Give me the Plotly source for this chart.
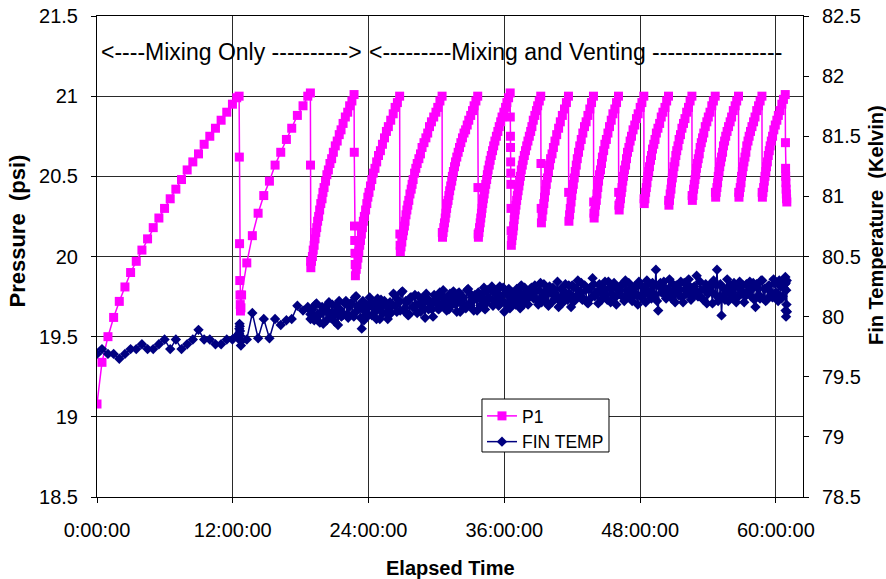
import plotly.graph_objects as go

# ---- Slow-logged start of the test (mixing only): shared time base for both series
early_hours = [
    0.00, 0.44, 0.97, 1.47, 1.97, 2.47, 2.97, 3.47, 3.97, 4.47, 4.97, 5.47, 5.97, 6.47,
    6.97, 7.47, 7.97, 8.47, 8.97, 9.47, 9.97, 10.47, 10.97, 11.47, 11.97, 12.35, 12.56,
    12.58, 12.60, 12.62, 12.64, 12.66, 12.68, 12.72, 12.78,
    13.24, 13.73, 14.24, 14.74, 15.24, 15.74, 16.24, 16.74, 17.21, 17.71, 18.21, 18.63, 18.86,
    18.87, 18.88,
]
early_p1 = [
    19.08, 19.34, 19.50, 19.62, 19.72, 19.81, 19.90, 19.97, 20.04, 20.11, 20.18, 20.24, 20.30, 20.36,
    20.42, 20.48, 20.54, 20.59, 20.64, 20.70, 20.75, 20.80, 20.85, 20.90, 20.95, 20.99, 21.00,
    20.62, 20.08, 19.85, 19.76, 19.70, 19.66, 19.68, 19.76,
    19.96, 20.13, 20.27, 20.38, 20.47, 20.57, 20.65, 20.73, 20.80, 20.88, 20.94, 21.00, 21.02,
    20.57, 19.97,
]
early_temp = [
    79.69, 79.73, 79.69, 79.69, 79.65, 79.69, 79.73, 79.73, 79.77, 79.73, 79.73, 79.77, 79.81, 79.73,
    79.81, 79.73, 79.77, 79.81, 79.89, 79.81, 79.81, 79.77, 79.77, 79.81, 79.81, 79.84, 79.86,
    79.90, 79.94, 79.92, 79.88, 79.84, 79.80, 79.76, 79.80,
    79.81, 80.03, 79.82, 79.98, 79.82, 79.98, 79.93, 79.97, 79.98, 80.09, 80.05, 80.08, 80.02,
    79.98, 80.05,
]

# ---- Fast-logged pressure cycles (fill, then vent) from ~19 h onward
late_p1_hours = [
    18.90, 18.96, 19.04, 19.11, 19.19, 19.27, 19.34, 19.42, 19.50, 19.59, 19.68, 19.78, 19.89, 19.97, 20.07, 20.20,
    20.32, 20.45, 20.59, 20.74, 20.89, 21.06, 21.23, 21.41, 21.57, 21.75, 21.95, 22.16, 22.33, 22.53, 22.72,
    22.74, 22.76, 22.78, 22.80, 22.82,
    22.84, 22.91, 22.98, 23.06, 23.14, 23.22, 23.29, 23.37, 23.46, 23.54, 23.63, 23.74, 23.85, 23.94, 24.04, 24.17,
    24.29, 24.42, 24.57, 24.72, 24.88, 25.05, 25.23, 25.41, 25.58, 25.75, 25.96, 26.18, 26.35, 26.55, 26.75,
    26.77, 26.79,
    26.81, 26.87, 26.94, 27.02, 27.09, 27.17, 27.23, 27.31, 27.39, 27.47, 27.56, 27.66, 27.77, 27.85, 27.94, 28.07,
    28.18, 28.30, 28.45, 28.59, 28.73, 28.90, 29.07, 29.23, 29.39, 29.56, 29.76, 29.96, 30.12, 30.31, 30.50,
    30.52,
    30.54, 30.59, 30.65, 30.71, 30.78, 30.84, 30.90, 30.96, 31.03, 31.10, 31.17, 31.26, 31.35, 31.41, 31.50, 31.60,
    31.69, 31.80, 31.92, 32.04, 32.16, 32.30, 32.44, 32.58, 32.72, 32.86, 33.03, 33.19, 33.33, 33.49, 33.65,
    33.67, 33.69,
    33.71, 33.76, 33.81, 33.87, 33.92, 33.98, 34.03, 34.09, 34.15, 34.22, 34.28, 34.36, 34.44, 34.50, 34.57, 34.67,
    34.75, 34.85, 34.96, 35.06, 35.17, 35.30, 35.43, 35.55, 35.68, 35.80, 35.96, 36.11, 36.23, 36.38, 36.52,
    36.53, 36.54, 36.55, 36.56, 36.57, 36.58, 36.59, 36.60,
    36.62, 36.66, 36.71, 36.77, 36.82, 36.87, 36.92, 36.97, 37.03, 37.09, 37.15, 37.22, 37.29, 37.35, 37.42, 37.50,
    37.59, 37.67, 37.77, 37.87, 37.98, 38.09, 38.21, 38.33, 38.44, 38.56, 38.70, 38.84, 38.95, 39.09, 39.22,
    39.24, 39.26,
    39.28, 39.34, 39.41, 39.49, 39.55, 39.63, 39.71, 39.80, 39.90, 40.00, 40.09,
    40.22, 40.34, 40.48, 40.63, 40.80, 40.95, 41.13, 41.32, 41.49, 41.67,
    41.69,
    41.71, 41.77, 41.83, 41.90, 41.96, 42.03, 42.10, 42.18, 42.27, 42.36, 42.45,
    42.56, 42.67, 42.80, 42.94, 43.09, 43.23, 43.39, 43.56, 43.71, 43.88,
    43.90, 43.92,
    43.94, 44.00, 44.06, 44.13, 44.19, 44.26, 44.33, 44.41, 44.50, 44.59, 44.67,
    44.78, 44.89, 45.02, 45.16, 45.30, 45.45, 45.60, 45.77, 45.92, 46.09,
    46.11, 46.13,
    46.15, 46.21, 46.27, 46.34, 46.40, 46.47, 46.54, 46.62, 46.72, 46.80, 46.89,
    47.01, 47.12, 47.24, 47.38, 47.53, 47.68, 47.83, 48.01, 48.16, 48.33,
    48.35,
    48.37, 48.43, 48.49, 48.55, 48.61, 48.69, 48.76, 48.83, 48.92, 49.01, 49.10,
    49.21, 49.32, 49.44, 49.58, 49.73, 49.87, 50.02, 50.20, 50.35, 50.51,
    50.53,
    50.55, 50.60, 50.66, 50.73, 50.78, 50.85, 50.92, 50.99, 51.08, 51.16, 51.24,
    51.35, 51.45, 51.57, 51.70, 51.84, 51.97, 52.12, 52.28, 52.42, 52.58,
    52.60,
    52.62, 52.67, 52.73, 52.79, 52.85, 52.92, 52.98, 53.06, 53.14, 53.23, 53.31,
    53.41, 53.52, 53.63, 53.76, 53.90, 54.03, 54.18, 54.34, 54.48, 54.64,
    54.66,
    54.68, 54.73, 54.79, 54.85, 54.91, 54.98, 55.04, 55.12, 55.20, 55.29, 55.37,
    55.47, 55.57, 55.69, 55.82, 55.96, 56.09, 56.24, 56.40, 56.54, 56.70,
    56.72,
    56.74, 56.79, 56.85, 56.92, 56.97, 57.04, 57.11, 57.18, 57.27, 57.35, 57.43,
    57.54, 57.64, 57.76, 57.89, 58.03, 58.16, 58.31, 58.47, 58.61, 58.77,
    58.79,
    58.81, 58.86, 58.92, 58.98, 59.04, 59.11, 59.17, 59.25, 59.33, 59.42, 59.50,
    59.60, 59.71, 59.82, 59.95, 60.09, 60.22, 60.37, 60.53, 60.67, 60.83,
    60.85, 60.86, 60.87, 60.89, 60.91, 60.93, 60.95, 60.97,
]
late_p1 = [
    19.93, 19.97, 20.00, 20.04, 20.07, 20.11, 20.15, 20.18, 20.22, 20.25, 20.29, 20.33, 20.36, 20.40, 20.43, 20.47,
    20.51, 20.54, 20.58, 20.61, 20.65, 20.69, 20.72, 20.76, 20.79, 20.83, 20.87, 20.90, 20.94, 20.97, 21.01,
    20.65, 20.19, 20.10, 20.02, 19.95,
    19.88, 19.92, 19.95, 19.99, 20.03, 20.07, 20.10, 20.14, 20.18, 20.22, 20.25, 20.29, 20.33, 20.37, 20.40, 20.44,
    20.48, 20.52, 20.55, 20.59, 20.63, 20.66, 20.70, 20.74, 20.78, 20.81, 20.85, 20.89, 20.93, 20.96, 21.00,
    20.14, 20.07,
    20.03, 20.06, 20.09, 20.13, 20.16, 20.19, 20.22, 20.26, 20.29, 20.32, 20.35, 20.39, 20.42, 20.45, 20.48, 20.52,
    20.55, 20.58, 20.61, 20.64, 20.68, 20.71, 20.74, 20.77, 20.81, 20.84, 20.87, 20.90, 20.93, 20.97, 21.00,
    20.15,
    20.12, 20.15, 20.18, 20.21, 20.24, 20.27, 20.30, 20.33, 20.35, 20.38, 20.41, 20.44, 20.47, 20.50, 20.53, 20.56,
    20.59, 20.62, 20.65, 20.68, 20.71, 20.74, 20.77, 20.79, 20.82, 20.85, 20.88, 20.91, 20.94, 20.97, 21.00,
    20.43, 20.14,
    20.12, 20.15, 20.18, 20.21, 20.24, 20.27, 20.30, 20.33, 20.36, 20.39, 20.42, 20.45, 20.48, 20.51, 20.54, 20.57,
    20.60, 20.63, 20.66, 20.69, 20.72, 20.75, 20.78, 20.81, 20.84, 20.87, 20.90, 20.93, 20.96, 20.99, 21.02,
    20.87, 20.75, 20.68, 20.59, 20.52, 20.45, 20.30, 20.16,
    20.07, 20.10, 20.13, 20.16, 20.19, 20.23, 20.26, 20.29, 20.32, 20.35, 20.38, 20.41, 20.44, 20.47, 20.50, 20.54,
    20.57, 20.60, 20.63, 20.66, 20.69, 20.72, 20.75, 20.78, 20.81, 20.85, 20.88, 20.91, 20.94, 20.97, 21.00,
    20.58, 20.30,
    20.21, 20.25, 20.29, 20.33, 20.37, 20.41, 20.45, 20.49, 20.53, 20.57, 20.61,
    20.64, 20.68, 20.72, 20.76, 20.80, 20.84, 20.88, 20.92, 20.96, 21.00,
    20.40,
    20.22, 20.26, 20.30, 20.34, 20.38, 20.42, 20.45, 20.49, 20.53, 20.57, 20.61,
    20.65, 20.69, 20.73, 20.77, 20.81, 20.84, 20.88, 20.92, 20.96, 21.00,
    20.34, 20.27,
    20.24, 20.28, 20.32, 20.35, 20.39, 20.43, 20.47, 20.51, 20.54, 20.58, 20.62,
    20.66, 20.70, 20.73, 20.77, 20.81, 20.85, 20.89, 20.92, 20.96, 21.00,
    20.40, 20.32,
    20.29, 20.33, 20.36, 20.40, 20.43, 20.47, 20.50, 20.54, 20.57, 20.61, 20.65,
    20.68, 20.72, 20.75, 20.79, 20.82, 20.86, 20.89, 20.93, 20.96, 21.00,
    20.36,
    20.33, 20.36, 20.40, 20.43, 20.46, 20.50, 20.53, 20.56, 20.60, 20.63, 20.67,
    20.70, 20.73, 20.77, 20.80, 20.83, 20.87, 20.90, 20.93, 20.97, 21.00,
    20.35,
    20.32, 20.35, 20.39, 20.42, 20.46, 20.49, 20.52, 20.56, 20.59, 20.63, 20.66,
    20.69, 20.73, 20.76, 20.80, 20.83, 20.86, 20.90, 20.93, 20.97, 21.00,
    20.38,
    20.35, 20.38, 20.42, 20.45, 20.48, 20.51, 20.55, 20.58, 20.61, 20.64, 20.68,
    20.71, 20.74, 20.77, 20.81, 20.84, 20.87, 20.90, 20.94, 20.97, 21.00,
    20.40,
    20.37, 20.40, 20.43, 20.46, 20.50, 20.53, 20.56, 20.59, 20.62, 20.65, 20.69,
    20.72, 20.75, 20.78, 20.81, 20.84, 20.87, 20.91, 20.94, 20.97, 21.00,
    20.40,
    20.37, 20.40, 20.43, 20.46, 20.50, 20.53, 20.56, 20.59, 20.62, 20.65, 20.69,
    20.72, 20.75, 20.78, 20.81, 20.84, 20.87, 20.91, 20.94, 20.97, 21.00,
    20.40,
    20.37, 20.40, 20.43, 20.47, 20.50, 20.53, 20.56, 20.59, 20.63, 20.66, 20.69,
    20.72, 20.75, 20.79, 20.82, 20.85, 20.88, 20.91, 20.95, 20.98, 21.01,
    20.71, 20.55, 20.50, 20.46, 20.42, 20.39, 20.36, 20.34,
]

# ---- Fast-logged fin temperature
late_temp_hours = [
    19.0, 19.1, 19.2, 19.3, 19.4, 19.5, 19.6, 19.7, 19.8, 19.9, 20.0, 20.1, 20.2, 20.3, 20.4, 20.5, 20.6, 20.7, 20.8, 20.9,
    21.0, 21.1, 21.2, 21.3, 21.4, 21.5, 21.6, 21.7, 21.8, 21.9, 22.0, 22.1, 22.2, 22.3, 22.4, 22.5, 22.6, 22.7, 22.8, 22.9,
    23.0, 23.1, 23.2, 23.3, 23.4, 23.5, 23.6, 23.7, 23.8, 23.9, 24.0, 24.1, 24.2, 24.3, 24.4, 24.5, 24.6, 24.7, 24.8, 24.9,
    25.0, 25.1, 25.2, 25.3, 25.4, 25.5, 25.6, 25.7, 25.8, 25.9, 26.0, 26.1, 26.2, 26.3, 26.4, 26.5, 26.6, 26.7, 26.8, 26.9,
    27.0, 27.1, 27.2, 27.3, 27.4, 27.5, 27.6, 27.7, 27.8, 27.9, 28.0, 28.1, 28.2, 28.3, 28.4, 28.5, 28.6, 28.7, 28.8, 28.9,
    29.0, 29.1, 29.2, 29.3, 29.4, 29.5, 29.6, 29.7, 29.8, 29.9, 30.0, 30.1, 30.2, 30.3, 30.4, 30.5, 30.6, 30.7, 30.8, 30.9,
    31.0, 31.1, 31.2, 31.3, 31.4, 31.5, 31.6, 31.7, 31.8, 31.9, 32.0, 32.1, 32.2, 32.3, 32.4, 32.5, 32.6, 32.7, 32.8, 32.9,
    33.0, 33.1, 33.2, 33.3, 33.4, 33.5, 33.6, 33.7, 33.8, 33.9, 34.0, 34.1, 34.2, 34.3, 34.4, 34.5, 34.6, 34.7, 34.8, 34.9,
    35.0, 35.1, 35.2, 35.3, 35.4, 35.5, 35.6, 35.7, 35.8, 35.9, 36.0, 36.1, 36.2, 36.3, 36.4, 36.5, 36.6, 36.7, 36.8, 36.9,
    37.0, 37.1, 37.2, 37.3, 37.4, 37.5, 37.6, 37.7, 37.8, 37.9, 38.0, 38.1, 38.2, 38.3, 38.4, 38.5, 38.6, 38.7, 38.8, 38.9,
    39.0, 39.1, 39.2, 39.3, 39.4, 39.5, 39.6, 39.7, 39.8, 39.9, 40.0, 40.1, 40.2, 40.3, 40.4, 40.5, 40.6, 40.7, 40.8, 40.9,
    41.0, 41.1, 41.2, 41.3, 41.4, 41.5, 41.6, 41.7, 41.8, 41.9, 42.0, 42.1, 42.2, 42.3, 42.4, 42.5, 42.6, 42.7, 42.8, 42.9,
    43.0, 43.1, 43.2, 43.3, 43.4, 43.5, 43.6, 43.7, 43.8, 43.9, 44.0, 44.1, 44.2, 44.3, 44.4, 44.5, 44.6, 44.7, 44.8, 44.9,
    45.0, 45.1, 45.2, 45.3, 45.4, 45.5, 45.6, 45.7, 45.8, 45.9, 46.0, 46.1, 46.2, 46.3, 46.4, 46.5, 46.6, 46.7, 46.8, 46.9,
    47.0, 47.1, 47.2, 47.3, 47.4, 47.5, 47.6, 47.7, 47.8, 47.9, 48.0, 48.1, 48.2, 48.3, 48.4, 48.5, 48.6, 48.7, 48.8, 48.9,
    49.0, 49.1, 49.2, 49.3, 49.4, 49.5, 49.6, 49.7, 49.8, 49.9, 50.0, 50.1, 50.2, 50.3, 50.4, 50.5, 50.6, 50.7, 50.8, 50.9,
    51.0, 51.1, 51.2, 51.3, 51.4, 51.5, 51.6, 51.7, 51.8, 51.9, 52.0, 52.1, 52.2, 52.3, 52.4, 52.5, 52.6, 52.7, 52.8, 52.9,
    53.0, 53.1, 53.2, 53.3, 53.4, 53.5, 53.6, 53.7, 53.8, 53.9, 54.0, 54.1, 54.2, 54.3, 54.4, 54.5, 54.6, 54.7, 54.8, 54.9,
    55.0, 55.1, 55.2, 55.3, 55.4, 55.5, 55.6, 55.7, 55.8, 55.9, 56.0, 56.1, 56.2, 56.3, 56.4, 56.5, 56.6, 56.7, 56.8, 56.9,
    57.0, 57.1, 57.2, 57.3, 57.4, 57.5, 57.6, 57.7, 57.8, 57.9, 58.0, 58.1, 58.2, 58.3, 58.4, 58.5, 58.6, 58.7, 58.8, 58.9,
    59.0, 59.1, 59.2, 59.3, 59.4, 59.5, 59.6, 59.7, 59.8, 59.9, 60.0, 60.1, 60.2, 60.3, 60.4, 60.5, 60.6, 60.7, 60.8,
    60.84, 60.86, 60.88, 60.90, 60.92, 60.94, 60.96, 60.98,
]
late_temp = [
    80.06, 79.99, 79.97, 80.10, 80.11, 80.02, 80.01, 79.95, 80.04, 80.08, 79.94, 80.05, 80.08, 79.97, 80.03, 80.12, 79.99, 80.03, 80.10, 80.00,
    79.96, 80.09, 80.05, 79.93, 80.13, 80.06, 80.00, 80.01, 80.02, 80.11, 80.13, 80.02, 79.99, 80.08, 80.11, 80.11, 80.02, 80.00, 80.16, 80.17,
    80.05, 80.09, 80.07, 79.99, 79.90, 80.13, 79.97, 80.04, 80.10, 80.07, 80.01, 80.16, 80.12, 80.01, 80.08, 80.11, 80.04, 79.98, 80.15, 80.08,
    79.98, 80.14, 80.09, 80.03, 80.13, 80.10, 80.03, 79.98, 80.07, 80.12, 80.03, 80.09, 80.19, 80.18, 80.09, 80.04, 80.14, 80.12, 80.05, 80.20,
    80.21, 80.05, 80.07, 80.13, 80.12, 80.01, 80.02, 80.16, 80.16, 80.08, 80.08, 80.18, 80.10, 80.03, 80.17, 80.10, 80.04, 80.15, 80.13, 80.07,
    79.99, 80.19, 80.15, 80.06, 80.11, 80.12, 80.06, 80.00, 80.18, 80.14, 80.11, 80.07, 80.06, 80.20, 80.17, 80.11, 80.22, 80.16, 80.08, 80.05,
    80.13, 80.06, 80.19, 80.17, 80.10, 80.21, 80.15, 80.10, 80.04, 80.19, 80.20, 80.04, 80.12, 80.14, 80.16, 80.08, 80.07, 80.22, 80.23, 80.11,
    80.09, 80.18, 80.14, 80.05, 80.18, 80.15, 80.05, 80.20, 80.15, 80.09, 80.14, 80.19, 80.24, 80.06, 80.11, 80.22, 80.16, 80.15, 80.22, 80.25,
    80.09, 80.13, 80.19, 80.22, 80.15, 80.09, 80.25, 80.17, 80.13, 80.24, 80.04, 80.11, 80.20, 80.18, 80.23, 80.07, 80.14, 80.20, 80.17, 80.15,
    80.10, 80.23, 80.21, 80.14, 80.07, 80.26, 80.18, 80.10, 80.24, 80.19, 80.14, 80.10, 80.18, 80.23, 80.24, 80.17, 80.15, 80.26, 80.21, 80.14,
    80.10, 80.22, 80.28, 80.12, 80.17, 80.27, 80.13, 80.18, 80.22, 80.09, 80.25, 80.20, 80.12, 80.24, 80.20, 80.15, 80.18, 80.29, 80.08, 80.13,
    80.23, 80.11, 80.16, 80.21, 80.27, 80.16, 80.14, 80.26, 80.19, 80.08, 80.26, 80.25, 80.13, 80.16, 80.23, 80.30, 80.19, 80.19, 80.28, 80.14,
    80.15, 80.26, 80.22, 80.12, 80.11, 80.23, 80.24, 80.16, 80.32, 80.27, 80.17, 80.20, 80.20, 80.11, 80.27, 80.25, 80.14, 80.18, 80.21, 80.29,
    80.18, 80.14, 80.29, 80.24, 80.12, 80.19, 80.25, 80.28, 80.16, 80.10, 80.23, 80.22, 80.19, 80.26, 80.26, 80.16, 80.13, 80.30, 80.22, 80.17,
    80.28, 80.21, 80.15, 80.13, 80.20, 80.25, 80.24, 80.18, 80.10, 80.29, 80.27, 80.16, 80.19, 80.24, 80.22, 80.12, 80.30, 80.27, 80.18, 80.21,
    80.15, 80.28, 80.26, 80.18, 80.39, 80.13, 80.05, 80.25, 80.28, 80.20, 80.20, 80.29, 80.24, 80.15, 80.17, 80.23, 80.31, 80.17, 80.15, 80.27,
    80.21, 80.12, 80.26, 80.26, 80.18, 80.22, 80.29, 80.16, 80.12, 80.28, 80.23, 80.19, 80.27, 80.31, 80.20, 80.14, 80.16, 80.24, 80.25, 80.20,
    80.34, 80.17, 80.17, 80.29, 80.22, 80.15, 80.14, 80.23, 80.27, 80.11, 80.19, 80.26, 80.24, 80.21, 80.11, 80.30, 80.28, 80.18, 80.39, 80.13,
    80.15, 80.27, 80.01, 80.24, 80.18, 80.14, 80.23, 80.31, 80.13, 80.19, 80.26, 80.16, 80.20, 80.28, 80.25, 80.12, 80.16, 80.25, 80.29, 80.22,
    80.19, 80.26, 80.12, 80.17, 80.27, 80.20, 80.22, 80.29, 80.17, 80.23, 80.28, 80.14, 80.08, 80.27, 80.24, 80.18, 80.15, 80.30, 80.30, 80.15,
    80.23, 80.13, 80.14, 80.25, 80.26, 80.21, 80.18, 80.16, 80.31, 80.28, 80.20, 80.19, 80.13, 80.30, 80.25, 80.15, 80.17, 80.24, 80.27,
    80.33, 80.05, 80.28, 80.00, 80.22, 80.10, 80.30, 80.04,
]

# ---- Axis ticks and labels
time_tick_hours = [0, 12, 24, 36, 48, 60]
time_tick_labels = ["0:00:00", "12:00:00", "24:00:00", "36:00:00", "48:00:00", "60:00:00"]

assert len(early_hours) == len(early_p1) == len(early_temp)
assert len(late_p1_hours) == len(late_p1)
assert len(late_temp_hours) == len(late_temp)

p1_hours = early_hours + late_p1_hours
p1_values = early_p1 + late_p1
temp_hours = early_hours + late_temp_hours
temp_values = early_temp + late_temp

FONT = "Liberation Sans, Arial, Helvetica, sans-serif"
MAGENTA = "#FF00FF"
NAVY = "#000080"
GRID = "#2a2a2a"

fig = go.Figure()
fig.add_trace(go.Scatter(
    x=p1_hours, y=p1_values, name="P1",
    mode="lines+markers",
    line=dict(color=MAGENTA, width=1.5),
    marker=dict(symbol="square", size=9, color=MAGENTA),
))
fig.add_trace(go.Scatter(
    x=temp_hours, y=temp_values, name="FIN TEMP", yaxis="y2",
    mode="lines+markers",
    line=dict(color=NAVY, width=1.5),
    marker=dict(symbol="diamond", size=8, color=NAVY),
))

axis_common = dict(
    showline=True, linecolor="black", linewidth=1,
    ticks="outside", ticklen=5, tickcolor="black", tickwidth=1,
    tickfont=dict(family=FONT, size=20, color="black"),
    zeroline=False, automargin=False,
)

fig.update_layout(
    width=886, height=579,
    margin=dict(l=97, r=83, t=16, b=82),
    paper_bgcolor="white", plot_bgcolor="white",
    font=dict(family=FONT, color="black"),
    showlegend=True,
    legend=dict(
        x=0.5453, y=0.2058, xanchor="left", yanchor="top",
        bgcolor="rgba(0,0,0,0)", borderwidth=0,
        font=dict(family=FONT, size=17.5, color="black"),
        tracegroupgap=0,
    ),
    xaxis=dict(
        range=[0, 62.4], tickmode="array",
        tickvals=time_tick_hours, ticktext=time_tick_labels,
        showgrid=True, gridcolor=GRID, gridwidth=1, mirror=True,
        ticklabelstandoff=10,
        **axis_common,
    ),
    yaxis=dict(
        range=[18.5, 21.5], tick0=18.5, dtick=0.5,
        showgrid=True, gridcolor=GRID, gridwidth=1,
        ticklabelstandoff=9,
        **axis_common,
    ),
    yaxis2=dict(
        range=[78.5, 82.5], tick0=78.5, dtick=0.5,
        overlaying="y", side="right", showgrid=False,
        ticklabelstandoff=9,
        **axis_common,
    ),
)

# Legend frame (white box with black border behind the legend entries)
fig.add_shape(
    type="rect", xref="paper", yref="paper",
    x0=0.5453, x1=0.7252, y0=0.0936, y1=0.2037,
    fillcolor="white", line=dict(color="black", width=1), layer="above",
)

annotations = [
    dict(text="<----Mixing Only ---------->", x=0.0024, y=0.925,
         xanchor="left", yanchor="middle", font=dict(size=23)),
    dict(text="<---------Mixing and Venting -----------------", x=0.383, y=0.925,
         xanchor="left", yanchor="middle", font=dict(size=23)),
    dict(text="<b>Elapsed Time</b>", x=0.5, y=-0.1476,
         xanchor="center", yanchor="middle", font=dict(size=20)),
    dict(text="<b>Pressure\u00a0 (psi)</b>", x=-0.1126, y=0.553, textangle=-90,
         xanchor="center", yanchor="middle", font=dict(size=22)),
    dict(text="<b>Fin Temperature\u00a0 (Kelvin)</b>", x=1.1034, y=0.5655, textangle=-90,
         xanchor="center", yanchor="middle", font=dict(size=20)),
]
for a in annotations:
    a.update(xref="paper", yref="paper", showarrow=False)
    a["font"].update(family=FONT, color="black")
fig.update_layout(annotations=annotations)

fig.write_html("out.html")
